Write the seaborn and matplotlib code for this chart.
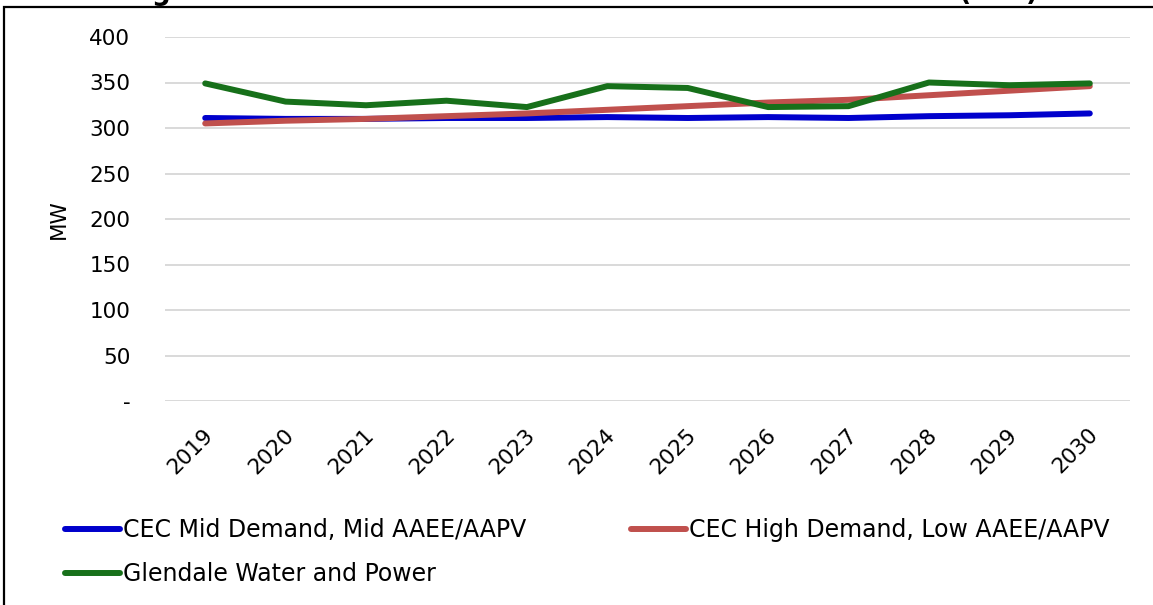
import matplotlib
matplotlib.use("Agg")
import matplotlib.pyplot as plt
import matplotlib.transforms as mtransforms
from matplotlib.patches import Rectangle
import seaborn as sns
import pandas as pd

# Forecast years and peak demand series (MW)
years = [2019, 2020, 2021, 2022, 2023, 2024, 2025, 2026, 2027, 2028, 2029, 2030]
cec_mid = [311, 310, 310, 311, 311, 312, 311, 312, 311, 313, 314, 316]
cec_high = [305, 308, 310, 313, 316, 320, 324, 328, 331, 336, 341, 346]
gwp = [349, 329, 325, 330, 323, 346, 344, 323, 324, 350, 347, 349]

series_names = [
    "CEC Mid Demand, Mid AAEE/AAPV",
    "CEC High Demand, Low AAEE/AAPV",
    "Glendale Water and Power",
]
series_colors = ["#0000CC", "#C0504D", "#17701A"]
y_ticks = [0, 50, 100, 150, 200, 250, 300, 350, 400]
y_tick_labels = ["-", "50", "100", "150", "200", "250", "300", "350", "400"]
title = "Figure 1: Glendale and CEC Peak Forecasts for Glendale (MW)"

frames = []
for name, vals in zip(series_names, [cec_mid, cec_high, gwp]):
    frames.append(pd.DataFrame({"Year": years, "MW": vals, "Series": name}))
df = pd.concat(frames, ignore_index=True)

sns.set_theme(style="white")
plt.rcParams["font.family"] = ["DejaVu Sans"]

W, H = 1153, 605
fig = plt.figure(figsize=(W / 100, H / 100), dpi=100)
ax = fig.add_axes([165 / W, 1 - 401 / H, (1130 - 165) / W, (401 - 37) / H])

sns.lineplot(
    data=df, x="Year", y="MW", hue="Series", hue_order=series_names,
    palette=series_colors, linewidth=4.3, ax=ax, legend=False,
    solid_capstyle="round",
)

ax.set_xlim(years[0] - 0.5, years[-1] + 0.5)
ax.set_ylim(0, 400)
ax.set_yticks(y_ticks)
ax.set_yticklabels(y_tick_labels)
ax.set_xticks(years)
ax.set_xticklabels([str(y) for y in years])
ax.grid(axis="y", color="#D9D9D9", linewidth=1.4)
ax.set_axisbelow(True)
for s in ax.spines.values():
    s.set_visible(False)

ax.tick_params(axis="y", length=0, pad=25, labelsize=15.5, labelcolor="black")
ax.tick_params(axis="x", length=0, pad=22, labelsize=15.5, labelcolor="black")
offset = mtransforms.ScaledTranslation(5 / 100, 0, fig.dpi_scale_trans)
for lbl in ax.get_xticklabels():
    lbl.set_rotation(45)
    lbl.set_rotation_mode("anchor")
    lbl.set_ha("right")
    lbl.set_va("center")
    lbl.set_transform(lbl.get_transform() + offset)

ax.set_xlabel("")
ax.set_ylabel("MW", fontsize=15.5, color="black")
ax.yaxis.set_label_coords(-0.100, 0.5)

# Legend below the plot: two entries on the first row, one on the second
color_of = dict(zip(series_names, series_colors))
legend_order = [series_names[0], series_names[2], series_names[1]]
handles = [plt.Line2D([], [], color=color_of[n], linewidth=4.3,
                      solid_capstyle="round") for n in legend_order]
leg = fig.legend(
    handles, legend_order, loc="upper left",
    bbox_to_anchor=(65 / W, 1 - 518 / H), ncol=2, frameon=False,
    prop={"family": "DejaVu Sans", "size": 17},
    handlelength=2.33, handletextpad=0.12, columnspacing=4.45,
    labelspacing=0.85, borderpad=0, borderaxespad=0,
)
for t in leg.get_texts():
    t.set_color("black")

# Outer chart frame and title (title sits above the frame edge)
fig.patches.append(Rectangle((3.5 / W, -0.1), 1.2, 1 - 7 / H + 0.1, fill=False,
                             edgecolor="black", linewidth=1.6,
                             transform=fig.transFigure, figure=fig))
fig.text(0.504, 1.0, title, ha="center", va="baseline",
         fontsize=18.8, fontweight="bold", color="black")

fig.savefig("out.png", dpi=100, facecolor="white")
